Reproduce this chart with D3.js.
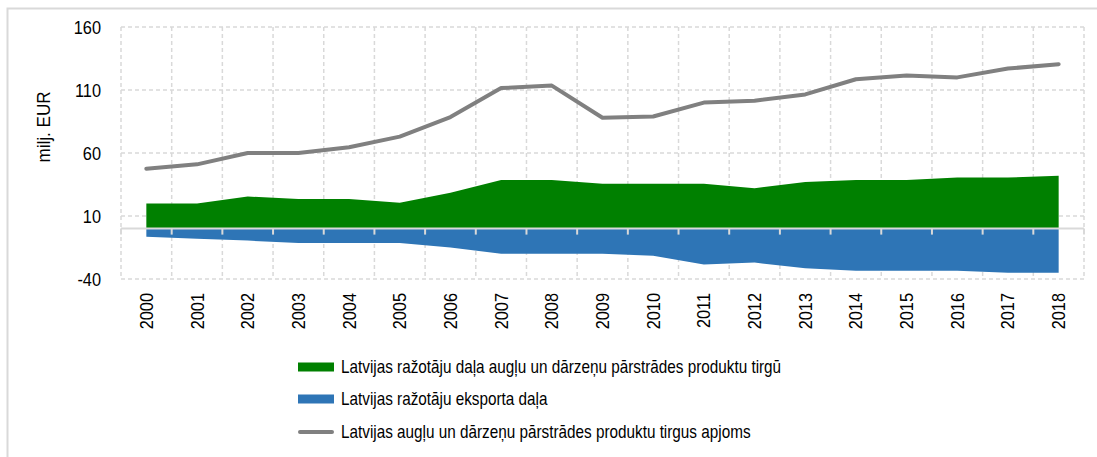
<!DOCTYPE html>
<html>
<head>
<meta charset="utf-8">
<script src="https://cdn.jsdelivr.net/npm/d3@7"></script>
<style>
  html, body { margin: 0; padding: 0; background: #fff; }
  svg text { font-family: "Liberation Sans", Arial, sans-serif; fill: #000; }
</style>
</head>
<body>
<svg id="chart" width="1097" height="457"></svg>
<script>
// Years on the category axis
const years = ["2000","2001","2002","2003","2004","2005","2006","2007","2008","2009",
               "2010","2011","2012","2013","2014","2015","2016","2017","2018"];

// Market volume of processed fruit & vegetable products (milj. EUR)
const marketVolume = [47.5, 51, 60, 60, 64.5, 73, 88.5, 111.5, 113.5, 88, 89, 100, 101.5, 106.5, 118.5, 121.5, 120, 127, 130.5];

// Latvian producers' share of the domestic market (milj. EUR)
const domesticShare = [20, 20, 25.5, 23.5, 23.5, 20.5, 28.5, 38.5, 38.5, 35.5, 35.5, 35.5, 32, 37, 38.5, 38.5, 40.5, 40.5, 42];

// Latvian producers' export share, drawn below zero (milj. EUR)
const exportShare = [-6.5, -8, -9.5, -11.5, -11.5, -11.5, -15, -20, -20, -20, -21.5, -28.5, -27, -31.5, -33.5, -33.5, -33.5, -35, -35];

const yTicks = [-40, 10, 60, 110, 160];

const legendItems = [
  { label: "Latvijas ražotāju daļa augļu un dārzeņu pārstrādes produktu tirgū", type: "area", color: "#008000" },
  { label: "Latvijas ražotāju eksporta daļa", type: "area", color: "#2e75b6" },
  { label: "Latvijas augļu un dārzeņu pārstrādes produktu tirgus apjoms", type: "line", color: "#808080" }
];

const svg = d3.select("#chart");
const W = 1097, H = 457;
const plot = { left: 121, right: 1084, top: 27, bottom: 279 };
const gridColor = "#d9d9d9";
const squeeze = 0.86; // condensed lettering

// Outer frame
svg.append("rect")
  .attr("x", 7.5).attr("y", 8.5)
  .attr("width", W + 10).attr("height", H + 10)
  .attr("fill", "none").attr("stroke", gridColor).attr("stroke-width", 2);

const x = d3.scaleBand().domain(years).range([plot.left, plot.right]).padding(0);
const y = d3.scaleLinear().domain([-40, 160]).range([plot.bottom, plot.top]);
const cx = d => x(d) + x.bandwidth() / 2;

// Dashed grid: horizontal lines at the value ticks
svg.append("g")
  .selectAll("line")
  .data(yTicks)
  .join("line")
  .attr("x1", plot.left).attr("x2", plot.right)
  .attr("y1", d => y(d)).attr("y2", d => y(d))
  .attr("stroke", gridColor).attr("stroke-width", 1.5)
  .attr("stroke-dasharray", "4,3");

// Dashed grid: vertical lines at the category boundaries
const boundaries = years.map(d => x(d)).concat([plot.right]);
svg.append("g")
  .selectAll("line")
  .data(boundaries)
  .join("line")
  .attr("x1", d => d).attr("x2", d => d)
  .attr("y1", plot.top).attr("y2", plot.bottom)
  .attr("stroke", gridColor).attr("stroke-width", 1.5)
  .attr("stroke-dasharray", "4,3");

// Domestic share area (above zero)
const areaUp = d3.area()
  .x((d, i) => cx(years[i]))
  .y0(y(0))
  .y1(d => y(d));
svg.append("path")
  .datum(domesticShare)
  .attr("d", areaUp)
  .attr("fill", "#008000");

// Export share area (below zero)
svg.append("path")
  .datum(exportShare)
  .attr("d", areaUp)
  .attr("fill", "#2e75b6");

// Zero axis with tick marks between categories
const axisG = svg.append("g").attr("transform", `translate(0,${y(0)})`);
axisG.append("line")
  .attr("x1", plot.left).attr("x2", plot.right)
  .attr("stroke", gridColor).attr("stroke-width", 2);
axisG.selectAll("line.tick")
  .data(boundaries)
  .join("line")
  .attr("class", "tick")
  .attr("x1", d => d).attr("x2", d => d)
  .attr("y1", 0).attr("y2", 6)
  .attr("stroke", gridColor).attr("stroke-width", 2);

// Market volume line
const line = d3.line()
  .x((d, i) => cx(years[i]))
  .y(d => y(d));
svg.append("path")
  .datum(marketVolume)
  .attr("d", line)
  .attr("fill", "none")
  .attr("stroke", "#808080")
  .attr("stroke-width", 4)
  .attr("stroke-linecap", "round")
  .attr("stroke-linejoin", "round");

// Value axis labels
svg.append("g")
  .selectAll("text")
  .data(yTicks)
  .join("text")
  .attr("transform", d => `translate(101,${y(d)}) scale(${squeeze},1)`)
  .attr("dy", "0.36em")
  .attr("text-anchor", "end")
  .attr("font-size", 19)
  .text(d => d);

// Value axis title
svg.append("text")
  .attr("transform", `translate(50,127) rotate(-90) scale(0.9,1)`)
  .attr("text-anchor", "middle")
  .attr("font-size", 19)
  .text("milj. EUR");

// Category labels, rotated
svg.append("g")
  .selectAll("text")
  .data(years)
  .join("text")
  .attr("transform", d => `translate(${cx(d) + 6.5},293) rotate(-90) scale(${squeeze},1)`)
  .attr("text-anchor", "end")
  .attr("font-size", 19)
  .text(d => d);

// Legend
const legend = svg.append("g");
const rowY = [367, 399, 432];
legendItems.forEach((item, i) => {
  const g = legend.append("g").attr("transform", `translate(0,${rowY[i]})`);
  if (item.type === "area") {
    g.append("rect")
      .attr("x", 298).attr("y", -4.5)
      .attr("width", 36).attr("height", 9)
      .attr("fill", item.color);
  } else {
    g.append("line")
      .attr("x1", 300).attr("x2", 332)
      .attr("stroke", item.color).attr("stroke-width", 4)
      .attr("stroke-linecap", "round");
  }
  g.append("text")
    .attr("transform", `translate(341,0) scale(0.85,1)`)
    .attr("dy", "0.36em")
    .attr("font-size", 18)
    .text(item.label);
});
</script>
</body>
</html>
